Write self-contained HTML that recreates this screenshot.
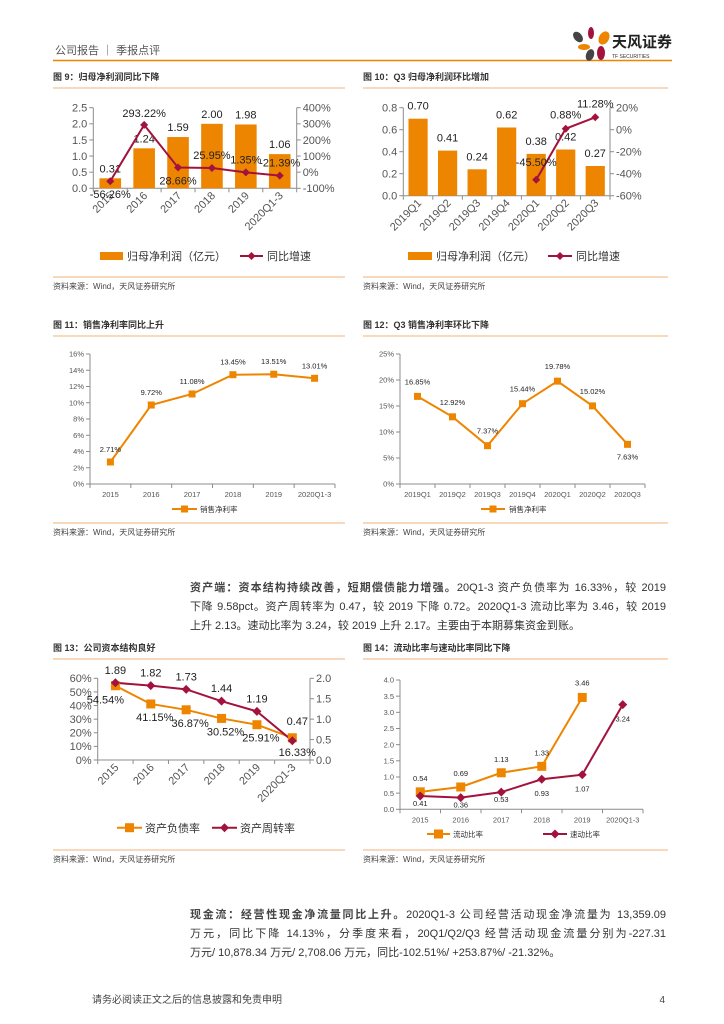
<!DOCTYPE html>
<html><head><meta charset="utf-8">
<style>
body{margin:0;background:#fff;}
#page{position:relative;width:724px;height:1024px;overflow:hidden;font-family:"Liberation Sans","Noto Sans CJK SC",sans-serif;}
svg{position:absolute;left:0;top:0;}
.ln{position:absolute;left:190px;width:476px;font-size:11px;line-height:14px;color:#333;white-space:nowrap;text-align:justify;text-align-last:justify;}
.ln.last{text-align-last:left;}
.ln b{font-weight:bold;color:#444;}
</style></head>
<body>
<div id="page">
<svg id="svg" width="724" height="1024"></svg>
<div>
<div class="ln" style="top:581px;"><b>资产端：资本结构持续改善，短期偿债能力增强。</b>20Q1-3 资产负债率为 16.33%，较 2019</div>
<div class="ln" style="top:600px;">下降 9.58pct。资产周转率为 0.47，较 2019 下降 0.72。2020Q1-3 流动比率为 3.46，较 2019</div>
<div class="ln last" style="top:619px;">上升 2.13。速动比率为 3.24，较 2019 上升 2.17。主要由于本期募集资金到账。</div>
</div>
<div>
<div class="ln" style="top:908px;"><b>现金流：经营性现金净流量同比上升。</b>2020Q1-3 公司经营活动现金净流量为 13,359.09</div>
<div class="ln" style="top:927px;">万元，同比下降 14.13%，分季度来看，20Q1/Q2/Q3 经营活动现金流量分别为-227.31</div>
<div class="ln last" style="top:946px;">万元/ 10,878.34 万元/ 2,708.06 万元，同比-102.51%/ +253.87%/ -21.32%。</div>
</div>
</div>
<script>
// Chart 9
const c9Cats=["2015","2016","2017","2018","2019","2020Q1-3"];
const c9Bars=[0.31,1.24,1.59,2.00,1.98,1.06];
const c9Line=[-56.26,293.22,28.66,25.95,-1.35,-21.39];
const c9LineLbl=["-56.26%","293.22%","28.66%","25.95%","1.35%","-21.39%"];
const c9LTicks=[0,0.5,1.0,1.5,2.0,2.5];
const c9RTicks=[-100,0,100,200,300,400];
// Chart 10
const c10Cats=["2019Q1","2019Q2","2019Q3","2019Q4","2020Q1","2020Q2","2020Q3"];
const c10Bars=[0.70,0.41,0.24,0.62,0.38,0.42,0.27];
const c10Line=[null,null,null,null,-45.50,0.88,11.28];
const c10LTicks=[0,0.2,0.4,0.6,0.8];
const c10RTicks=[-60,-40,-20,0,20];
// Chart 11
const c11Cats=["2015","2016","2017","2018","2019","2020Q1-3"];
const c11Vals=[2.71,9.72,11.08,13.45,13.51,13.01];
const c11Ticks=[0,2,4,6,8,10,12,14,16];
// Chart 12
const c12Cats=["2019Q1","2019Q2","2019Q3","2019Q4","2020Q1","2020Q2","2020Q3"];
const c12Vals=[16.85,12.92,7.37,15.44,19.78,15.02,7.63];
const c12Ticks=[0,5,10,15,20,25];
// Chart 13
const c13Cats=["2015","2016","2017","2018","2019","2020Q1-3"];
const c13Debt=[54.54,41.15,36.87,30.52,25.91,16.33];
const c13Turn=[1.89,1.82,1.73,1.44,1.19,0.47];
const c13LTicks=[0,10,20,30,40,50,60];
const c13RTicks=[0,0.5,1.0,1.5,2.0];
// Chart 14
const c14Cats=["2015","2016","2017","2018","2019","2020Q1-3"];
const c14Cur=[0.54,0.69,1.13,1.33,3.46,null];
const c14Quick=[0.41,0.36,0.53,0.93,1.07,3.24];
const c14Ticks=[0,0.5,1.0,1.5,2.0,2.5,3.0,3.5,4.0];

const S=document.getElementById('svg');
const NS='http://www.w3.org/2000/svg';
const OR='#EE8500',RD='#A3123C',AX='#8c8c8c',TX='#404040';
function mk(tag,attrs,name,txt){const e=document.createElementNS(NS,tag);for(const k in attrs)e.setAttribute(k,attrs[k]);


if(txt!==undefined)e.textContent=txt;S.appendChild(e);return e;}
function sc(v,d0,d1,p0,p1){return p0+(v-d0)/(d1-d0)*(p1-p0);}
function txt(x,y,s,size,name,anchor,fill,extra){const a=Object.assign({x:x,y:y,'font-size':size,fill:fill||TX,'text-anchor':anchor||'middle','font-family':'"Liberation Sans","Noto Sans CJK SC",sans-serif'},extra||{});return mk('text',a,name,s);}
function diamond(x,y,r,name){mk('path',{d:`M${x},${y-r}L${x+r},${y}L${x},${y+r}L${x-r},${y}Z`,fill:RD},name);}
function square(x,y,r,name){mk('rect',{x:x-r,y:y-r,width:2*r,height:2*r,fill:OR},name);}

// header
txt(55,54,'公司报告 ｜ 季报点评',11,'header-title','start','#555');
mk('line',{x1:53,y1:60.5,x2:672,y2:60.5,stroke:OR,'stroke-width':1.5},'header-rule');
mk('ellipse',{cx:578,cy:37,rx:4,ry:6,fill:'#444',transform:'rotate(-40 578 37)'},'logo-petal');
mk('ellipse',{cx:591,cy:33,rx:3,ry:6,fill:RD},'logo-petal');
mk('ellipse',{cx:604,cy:38,rx:5,ry:7,fill:OR,transform:'rotate(30 604 38)'},'logo-petal');
mk('ellipse',{cx:584,cy:47,rx:6,ry:3,fill:OR},'logo-petal');
mk('ellipse',{cx:590,cy:55,rx:4,ry:6,fill:'#444',transform:'rotate(20 590 55)'},'logo-petal');
mk('ellipse',{cx:601,cy:53,rx:4,ry:7,fill:RD},'logo-petal');
txt(612,47,'天风证券',15,'logo-text','start','#222',{'font-weight':'bold'});
txt(612,58,'TF SECURITIES',5,'logo-subtext','start','#333');

function frame(x0,x1,yT,yS,title,name){
 txt(x0,yT,title,9,name+'-title','start','#333',{'font-weight':'bold'});
 mk('line',{x1:x0,y1:yT+8,x2:x1,y2:yT+8,stroke:'#F2B37A','stroke-width':1},name+'-title-rule');
 mk('line',{x1:x0,y1:yS,x2:x1,y2:yS,stroke:'#F2B37A','stroke-width':1},name+'-source-rule');
 txt(x0,yS+12,'资料来源：Wind，天风证券研究所',8,name+'-source','start','#444');
}
frame(53,345,80,277,'图 9：归母净利润同比下降','fig9');
frame(363,668,80,277,'图 10：Q3 归母净利润环比增加','fig10');
frame(53,345,328,523,'图 11：销售净利率同比上升','fig11');
frame(363,668,328,523,'图 12：Q3 销售净利率环比下降','fig12');
frame(53,345,651,850,'图 13：公司资本结构良好','fig13');
frame(363,668,651,850,'图 14：流动比率与速动比率同比下降','fig14');

function leftAxis(x,yb,yt,ticks,d0,d1,fmt,size,name){
 mk('line',{x1:x,y1:yt,x2:x,y2:yb,stroke:AX},name+'-left-axis');
 ticks.forEach(t=>{const y=sc(t,d0,d1,yb,yt);mk('line',{x1:x-4,y1:y,x2:x,y2:y,stroke:AX},name+'-left-tick');
 txt(x-6,y+size*0.35,fmt(t),size,name+'-left-tick-label','end','#555');});
}
function rightAxis(x,yb,yt,ticks,d0,d1,fmt,size,name){
 mk('line',{x1:x,y1:yt,x2:x,y2:yb,stroke:AX},name+'-right-axis');
 ticks.forEach(t=>{const y=sc(t,d0,d1,yb,yt);mk('line',{x1:x,y1:y,x2:x+4,y2:y,stroke:AX},name+'-right-tick');
 txt(x+6,y+size*0.35,fmt(t),size,name+'-right-tick-label','start','#555');});
}
function xAxis(x0,x1,y,cats,rot,size,name){
 mk('line',{x1:x0,y1:y,x2:x1,y2:y,stroke:AX},name+'-x-axis');
 const w=(x1-x0)/cats.length;
 cats.forEach((c,i)=>{const cx=x0+w*(i+0.5);
 mk('line',{x1:x0+w*i,y1:y,x2:x0+w*i,y2:y+4,stroke:AX},name+'-x-tick');
 if(rot){txt(cx+4,y+8,c,size,name+'-x-label','end','#555',{transform:`rotate(-45 ${cx+4} ${y+8})`});}
 else txt(cx,y+13,c,size,name+'-x-label','middle','#555');});
 mk('line',{x1:x1,y1:y,x2:x1,y2:y+4,stroke:AX},name+'-x-tick');
 return i=>x0+w*(i+0.5);
}
function polyline(pts,color,name){const p=pts.filter(q=>q).map(q=>q.join(',')).join(' ');mk('polyline',{points:p,fill:'none',stroke:color,'stroke-width':2},name);}

// Chart 9
(function(){const x0=93.3,x1=296.7,yb=188.3,yt=107.7,f=11;
 leftAxis(x0,yb,yt,c9LTicks,0,2.5,t=>t.toFixed(1),f,'fig9');
 rightAxis(x1,yb,yt,c9RTicks,-100,400,t=>t+'%',f,'fig9');
 const X=xAxis(x0,x1,yb,c9Cats,true,f,'fig9');
 c9Bars.forEach((v,i)=>{const y=sc(v,0,2.5,yb,yt);mk('rect',{x:X(i)-10.8,y:y,width:21.6,height:yb-y,fill:OR},'fig9-bar-'+c9Cats[i]);
  txt(X(i),y-6,v.toFixed(2),f,'fig9-bar-label','middle','#222');});
 const pts=c9Line.map((v,i)=>[X(i),sc(v,-100,400,yb,yt)]);
 polyline(pts,RD,'fig9-growth-line');
 pts.forEach((p,i)=>diamond(p[0],p[1],4,'fig9-growth-point'));
 const off=[[0,17],[0,-8],[0,17],[0,-9],[0,-9],[0,-9]];
 pts.forEach((p,i)=>txt(p[0]+off[i][0],p[1]+off[i][1],c9LineLbl[i],f,'fig9-growth-label','middle','#222'));
 mk('rect',{x:100,y:252,width:23,height:8,fill:OR},'fig9-legend-bar-swatch');
 txt(127,260,'归母净利润（亿元）',11,'fig9-legend-bar','start','#333');
 mk('line',{x1:240,y1:256,x2:263,y2:256,stroke:RD,'stroke-width':2},'fig9-legend-line-swatch');diamond(251.5,256,4,'fig9-legend-marker');
 txt(267,260,'同比增速',11,'fig9-legend-line','start','#333');
})();

// Chart 10
(function(){const x0=403.3,x1=610,yb=195.7,yt=107.7,f=11;
 leftAxis(x0,yb,yt,c10LTicks,0,0.8,t=>t.toFixed(1),f,'fig10');
 rightAxis(x1,yb,yt,c10RTicks,-60,20,t=>t+'%',f,'fig10');
 const X=xAxis(x0,x1,yb,c10Cats,true,f,'fig10');
 c10Bars.forEach((v,i)=>{const y=sc(v,0,0.8,yb,yt);mk('rect',{x:X(i)-9.6,y:y,width:19.2,height:yb-y,fill:OR},'fig10-bar-'+c10Cats[i]);
  txt(X(i),y-9,v.toFixed(2),f,'fig10-bar-label','middle','#222');});
 const pts=c10Line.map((v,i)=>v===null?null:[X(i),sc(v,-60,20,yb,yt)]);
 polyline(pts,RD,'fig10-growth-line');
 pts.forEach((p,i)=>{if(!p)return;diamond(p[0],p[1],4,'fig10-growth-point');
  txt(p[0],p[1]-10-(i===4?4:0),c10Line[i].toFixed(2)+'%',f,'fig10-growth-label','middle','#222');});
 mk('rect',{x:408,y:252,width:24,height:8,fill:OR},'fig10-legend-bar-swatch');
 txt(436,260,'归母净利润（亿元）',11,'fig10-legend-bar','start','#333');
 mk('line',{x1:548,y1:256,x2:572,y2:256,stroke:RD,'stroke-width':2},'fig10-legend-line-swatch');diamond(560,256,4,'fig10-legend-marker');
 txt(576,260,'同比增速',11,'fig10-legend-line','start','#333');
})();

function lineChart(cats,vals,ticks,d1,x0,x1,yb,yt,name,fmtT,offs){
 leftAxis(x0,yb,yt,ticks,0,d1,fmtT,7.5,name);
 const X=xAxis(x0,x1,yb,cats,false,7.5,name);
 const pts=vals.map((v,i)=>[X(i),sc(v,0,d1,yb,yt)]);
 polyline(pts,OR,name+'-line');
 pts.forEach((p,i)=>{square(p[0],p[1],3.5,name+'-point');txt(p[0]+offs[i][0],p[1]+offs[i][1],vals[i].toFixed(2)+'%',7.5,name+'-value-label','middle','#222');});
}
lineChart(c11Cats,c11Vals,c11Ticks,16,90,335,484,354,'fig11',t=>t+'%',[[0,-10],[0,-10],[0,-10],[0,-10],[0,-10],[0,-10]]);
mk('line',{x1:172,y1:509,x2:197,y2:509,stroke:OR,'stroke-width':2},'fig11-legend-swatch');square(184.5,509,3.5,'fig11-legend-marker');
txt(200,512,'销售净利率',7.5,'fig11-legend-label','start','#333');
lineChart(c12Cats,c12Vals,c12Ticks,25,400,645,484,354,'fig12',t=>t+'%',[[0,-12],[0,-12],[0,-12],[0,-12],[0,-12],[0,-12],[0,15]]);
mk('line',{x1:481,y1:509,x2:505,y2:509,stroke:OR,'stroke-width':2},'fig12-legend-swatch');square(493,509,3.5,'fig12-legend-marker');
txt(509,512,'销售净利率',7.5,'fig12-legend-label','start','#333');

// Chart 13
(function(){const x0=97.7,x1=310,yb=760,yt=678.3,f=11;
 leftAxis(x0,yb,yt,c13LTicks,0,60,t=>t+'%',f,'fig13');
 rightAxis(x1,yb,yt,c13RTicks,0,2,t=>t.toFixed(1),f,'fig13');
 const X=xAxis(x0,x1,yb,c13Cats,true,f,'fig13');
 const pd=c13Debt.map((v,i)=>[X(i),sc(v,0,60,yb,yt)]);
 const pt=c13Turn.map((v,i)=>[X(i),sc(v,0,2,yb,yt)]);
 polyline(pd,OR,'fig13-debt-line');polyline(pt,RD,'fig13-turnover-line');
 pd.forEach(p=>square(p[0],p[1],4.5,'fig13-debt-point'));
 pt.forEach(p=>diamond(p[0],p[1],4.5,'fig13-turnover-point'));
 pd.forEach((p,i)=>txt(p[0]+(i==0?-10:i==5?5:4),p[1]+(i==0?18:i==5?18:17),c13Debt[i].toFixed(2)+'%',f,'fig13-debt-label','middle','#222'));
 pt.forEach((p,i)=>txt(p[0]+(i==5?5:0),p[1]-(i==5?16:9),c13Turn[i].toFixed(2),f,'fig13-turnover-label','middle','#222'));
 mk('line',{x1:117,y1:827.7,x2:142,y2:827.7,stroke:OR,'stroke-width':2},'fig13-legend-debt-swatch');square(129.5,827.7,4.5,'fig13-legend-debt-marker');
 txt(145,832,'资产负债率',11,'fig13-legend-debt','start','#333');
 mk('line',{x1:212,y1:827.7,x2:237,y2:827.7,stroke:RD,'stroke-width':2},'fig13-legend-turn-swatch');diamond(224.5,827.7,4.5,'fig13-legend-turn-marker');
 txt(240,832,'资产周转率',11,'fig13-legend-turn','start','#333');
})();

// Chart 14
(function(){const x0=400,x1=643,yb=809.3,yt=680,f=7.5;
 leftAxis(x0,yb,yt,c14Ticks,0,4,t=>t.toFixed(1),f,'fig14');
 const X=xAxis(x0,x1,yb,c14Cats,false,f,'fig14');
 const pc=c14Cur.map((v,i)=>v===null?null:[X(i),sc(v,0,4,yb,yt)]);
 const pq=c14Quick.map((v,i)=>[X(i),sc(v,0,4,yb,yt)]);
 polyline(pc,OR,'fig14-current-line');polyline(pq,RD,'fig14-quick-line');
 pc.forEach((p,i)=>{if(!p)return;square(p[0],p[1],4.5,'fig14-current-point');txt(p[0],p[1]-(i==4?12:11),c14Cur[i].toFixed(2),f,'fig14-current-label','middle','#222');});
 pq.forEach((p,i)=>{diamond(p[0],p[1],4.5,'fig14-quick-point');txt(p[0],p[1]+(i==5?17:(i>=3?17:10)),c14Quick[i].toFixed(2),f,'fig14-quick-label','middle','#222');});
 mk('line',{x1:427,y1:834,x2:450,y2:834,stroke:OR,'stroke-width':2},'fig14-legend-current-swatch');square(438.5,834,4.5,'fig14-legend-current-marker');
 txt(453,837,'流动比率',7.5,'fig14-legend-current','start','#333');
 mk('line',{x1:543,y1:834,x2:567,y2:834,stroke:RD,'stroke-width':2},'fig14-legend-quick-swatch');diamond(555,834,4.5,'fig14-legend-quick-marker');
 txt(570,837,'速动比率',7.5,'fig14-legend-quick','start','#333');
})();

txt(92,1003,'请务必阅读正文之后的信息披露和免责申明',10,'footer-disclaimer','start','#444');
txt(665,1003,'4',10,'page-number','end','#444');
</script>
</body></html>
